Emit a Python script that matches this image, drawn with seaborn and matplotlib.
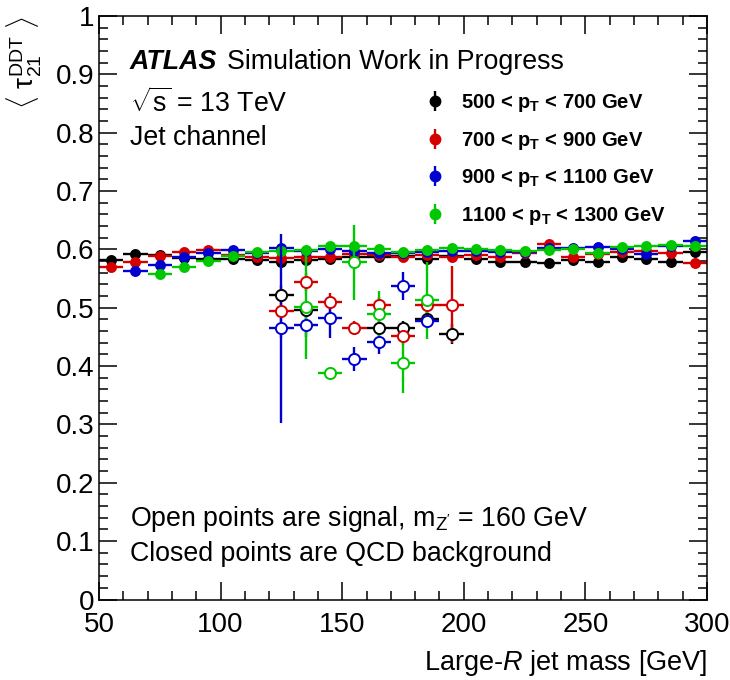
import numpy as np
import pandas as pd
import seaborn as sns
import matplotlib
matplotlib.use("Agg")
import matplotlib.pyplot as plt
from matplotlib.ticker import MultipleLocator, FuncFormatter

nan = np.nan

# ---------------- data ----------------
mass_bins = [55, 65, 75, 85, 95, 105, 115, 125, 135, 145, 155, 165, 175,
             185, 195, 205, 215, 225, 235, 245, 255, 265, 275, 285, 295]

bkg_500_700 = [0.581, 0.592, 0.590, 0.586, 0.583, 0.583, 0.581, 0.579, 0.581,
               0.583, 0.5875, 0.5875, 0.588, 0.583, 0.589, 0.583, 0.579, 0.579,
               0.576, 0.582, 0.579, 0.5865, 0.583, 0.579, 0.596]
bkg_700_900 = [0.569, 0.579, 0.589, 0.596, 0.599, 0.590, 0.5875, 0.585, 0.5875,
               0.5875, 0.592, 0.590, 0.5865, 0.590, 0.5865, 0.590, 0.5875, 0.593,
               0.610, 0.5865, 0.592, 0.596, 0.597, 0.593, 0.576]
bkg_900_1100 = [nan, 0.5635, 0.574, 0.5875, 0.593, 0.599, 0.594, 0.602, 0.597,
                0.600, 0.598, 0.594, 0.594, 0.596, 0.5975, 0.597, 0.596, 0.595,
                0.602, 0.603, 0.6036, 0.600, 0.592, 0.606, 0.615]
bkg_1100_1300 = [nan, nan, 0.557, 0.569, 0.580, 0.589, 0.596, 0.598, 0.599,
                 0.605, 0.606, 0.600, 0.595, 0.599, 0.603, 0.601, 0.599, 0.598,
                 0.599, 0.601, 0.594, 0.6036, 0.605, 0.6075, 0.605]

sig_bins = [125, 135, 145, 155, 165, 175, 185, 195]
sig_500_700 = [0.521, 0.497, nan, nan, 0.466, 0.466, 0.480, 0.455]
sig_500_700_err = [0.010, 0.010, nan, nan, 0.012, 0.012, 0.012, 0.017]
sig_700_900 = [0.494, 0.544, 0.509, 0.466, 0.504, 0.452, 0.505, 0.505]
sig_700_900_err = [0.045, 0.015, 0.017, 0.012, 0.014, 0.015, 0.015, 0.066]
sig_900_1100 = [0.465, 0.470, 0.482, 0.412, 0.441, 0.538, 0.478, nan]
sig_900_1100_err = [0.162, 0.020, 0.033, 0.020, 0.020, 0.024, 0.012, nan]
sig_1100_1300 = [nan, 0.501, 0.389, 0.578, 0.490, 0.405, 0.513, nan]
sig_1100_1300_err = [nan, 0.089, 0.004, 0.064, 0.039, 0.051, 0.066, nan]

series_labels = [r"500 < p$_{\mathbf{T}}$ < 700 GeV",
                 r"700 < p$_{\mathbf{T}}$ < 900 GeV",
                 r"900 < p$_{\mathbf{T}}$ < 1100 GeV",
                 r"1100 < p$_{\mathbf{T}}$ < 1300 GeV"]
series_colors = ["#000000", "#d40000", "#0000d0", "#00c800"]
bin_half_width = 5

bkg_values = [bkg_500_700, bkg_700_900, bkg_900_1100, bkg_1100_1300]
sig_values = [sig_500_700, sig_700_900, sig_900_1100, sig_1100_1300]
sig_errors = [sig_500_700_err, sig_700_900_err, sig_900_1100_err, sig_1100_1300_err]

# ---------------- style ----------------
sns.set_theme(style="ticks")
plt.rcParams["font.family"] = ["Liberation Sans", "DejaVu Sans"]
plt.rcParams["mathtext.fontset"] = "custom"
plt.rcParams["mathtext.rm"] = "Liberation Sans"
plt.rcParams["mathtext.it"] = "Liberation Sans:italic"
plt.rcParams["mathtext.bf"] = "Liberation Sans:bold"
plt.rcParams["axes.linewidth"] = 1.1
for key in ["text.color", "axes.labelcolor", "xtick.color", "ytick.color",
            "axes.edgecolor", "xtick.labelcolor", "ytick.labelcolor"]:
    plt.rcParams[key] = "black"

fig = plt.figure(figsize=(7.3, 6.8), dpi=100)
ax = fig.add_axes([99 / 730, 1 - 599.5 / 680, 608 / 730, 583.5 / 680])

# background (closed points)
for vals, col in zip(bkg_values, series_colors):
    df = pd.DataFrame({"mass": mass_bins, "value": vals}).dropna()
    ax.errorbar(df["mass"], df["value"], xerr=bin_half_width, fmt="none",
                ecolor=col, elinewidth=1.7, capsize=0, zorder=2)
    sns.scatterplot(data=df, x="mass", y="value", color=col, s=62,
                    linewidth=0, ax=ax, zorder=3, legend=False)

# signal (open points)
for vals, errs, col in zip(sig_values, sig_errors, series_colors):
    df = pd.DataFrame({"mass": sig_bins, "value": vals, "err": errs}).dropna()
    ax.errorbar(df["mass"], df["value"], xerr=bin_half_width, yerr=df["err"],
                fmt="none", ecolor=col, elinewidth=1.7, capsize=0, zorder=4)
    sns.scatterplot(data=df, x="mass", y="value", s=64, facecolor="white",
                    edgecolor=col, linewidth=1.4, ax=ax, zorder=5, legend=False)

# legend handles
handles = []
for lab, col in zip(series_labels, series_colors):
    h = ax.errorbar([nan], [nan], yerr=[0.01], fmt="o", color=col, ms=7.5,
                    elinewidth=1.7, capsize=0, label=lab)
    handles.append(h)
leg = ax.legend(handles=handles, loc="upper left",
                bbox_to_anchor=((425 - 99) / 608, (599.5 - 92) / 583.5),
                frameon=False, borderaxespad=0, borderpad=0,
                handlelength=1.0, handletextpad=0.8, labelspacing=0.78,
                prop={"weight": "bold", "size": 14.5})

# axes
ax.set_xlim(50, 300)
ax.set_ylim(0, 1)
ax.xaxis.set_major_locator(MultipleLocator(50))
ax.xaxis.set_minor_locator(MultipleLocator(10))
ax.yaxis.set_major_locator(MultipleLocator(0.1))
ax.yaxis.set_minor_locator(MultipleLocator(0.02))
ax.yaxis.set_major_formatter(FuncFormatter(lambda v, p: f"{v:g}"))
ax.tick_params(which="both", direction="in", top=True, right=True,
               width=1.1, color="black", labelcolor="black")
ax.tick_params(which="major", length=13)
ax.tick_params(which="minor", length=6.5)
ax.tick_params(axis="x", which="major", labelsize=20, pad=9)
ax.tick_params(axis="y", which="major", labelsize=20, pad=3)
for sp in ax.spines.values():
    sp.set_color("black")

ax.set_xlabel(r"Large-$\it{R}$ jet mass [GeV]", fontsize=19.5, loc="right",
              color="black")
ax.xaxis.set_label_coords(1.0, -0.083)
ax.set_ylabel(r"$\langle\ \mathrm{\tau}_{21}^{\mathrm{DDT}}\ \rangle$",
              fontsize=20, loc="top", color="black")
ax.yaxis.set_label_coords(-0.122, 1.0)
ax.yaxis.label.set_verticalalignment("center")

# texts
tx = (130 - 99) / 608
fs = 19.3
t1 = ax.text(tx, (599.5 - 69) / 583.5, "ATLAS", transform=ax.transAxes,
             fontsize=fs, fontweight="bold", fontstyle="italic", va="baseline",
             color="black")
fig.canvas.draw()
bb = t1.get_window_extent(renderer=fig.canvas.get_renderer())
x2 = ax.transAxes.inverted().transform((bb.x1 + 10, bb.y0))[0]
ax.text(x2, (599.5 - 69) / 583.5, "Simulation Work in Progress",
        transform=ax.transAxes, fontsize=fs, va="baseline", color="black")
ax.text(tx, (599.5 - 112) / 583.5, r"$\sqrt{\mathrm{s}}$ = 13 TeV",
        transform=ax.transAxes, fontsize=fs, va="baseline", color="black")
ax.text(tx, (599.5 - 145) / 583.5, "Jet channel",
        transform=ax.transAxes, fontsize=fs, va="baseline", color="black")
ax.text(tx, (599.5 - 526) / 583.5,
        r"Open points are signal, m$_{\mathrm{Z'}}$ = 160 GeV",
        transform=ax.transAxes, fontsize=fs, va="baseline", color="black")
ax.text(tx, (599.5 - 561) / 583.5, "Closed points are QCD background",
        transform=ax.transAxes, fontsize=fs, va="baseline", color="black")
for t in leg.get_texts():
    t.set_color("black")

fig.savefig("out.png", dpi=100)
